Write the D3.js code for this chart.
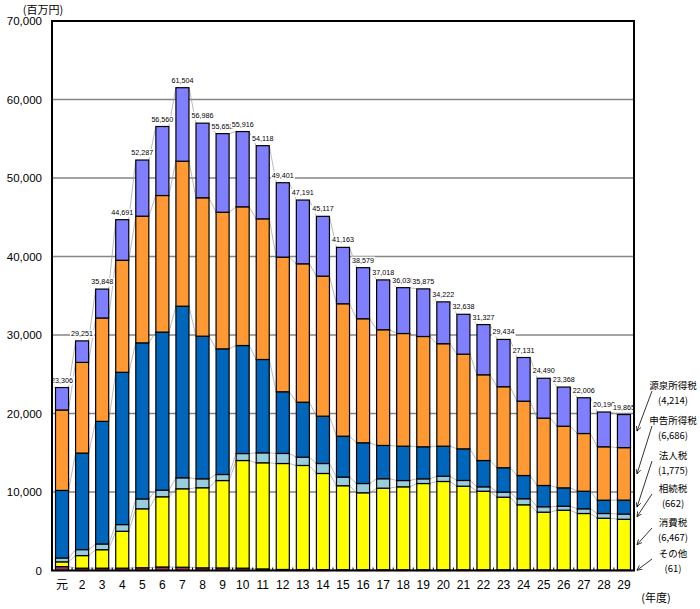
<!DOCTYPE html>
<html>
<head>
<meta charset="utf-8">
<script src="https://cdn.jsdelivr.net/npm/d3@7"></script>
<style>
body { margin: 0; background: #fff; }
text { font-family: "Liberation Sans", Arial, sans-serif; }
.jp { font-family: "Noto Sans CJK JP", sans-serif; }
</style>
</head>
<body>
<div id="chart"></div>
<script>
// years (Heisei), first one is 元年
var years = ["元","2","3","4","5","6","7","8","9","10","11","12","13","14","15",
    "16","17","18","19","20","21","22","23","24","25","26","27","28","29"];

// series, bottom to top (百万円)
var sonota   = [500,300,300,300,350,450,420,340,330,300,200,130,120,110,100,90,90,90,90,90,90,90,90,80,70,70,60,60,61];
var shohi    = [600,1600,2350,4700,7510,8940,9990,10200,11130,13710,13520,13500,13260,12250,10700,9810,10400,10570,10990,11250,10650,10010,9250,8290,7360,7610,7200,6600,6467];
var sozoku   = [500,760,730,850,1260,840,1400,1140,770,890,1270,1280,1050,1270,1100,1180,1200,800,600,670,730,560,640,770,690,510,600,600,662];
var hojin    = [8600,12300,15620,19400,19880,20140,21860,18170,16010,13760,11890,7860,7010,6030,5210,5190,4240,4380,4080,3830,4030,3350,3110,2960,2710,2340,2240,1700,1775];
var shinkoku = [10250,11550,13170,14270,16140,17400,18470,17630,17400,17670,17920,17150,17630,17840,16870,15800,14740,14350,14050,13050,12060,10920,10320,9470,8580,7850,7350,6800,6686];
var gensen   = [2856,2741,3678,5171,7147,8790,9364,9506,10012,9586,9318,9481,8121,7617,7183,6509,6348,5840,6065,5332,5078,6397,6024,5561,5080,4988,4556,4430,4214];

// printed totals
var totals = [23306,29251,35848,44691,52287,56560,61504,56986,55652,55916,54118,49401,47191,45117,41163,
    38579,37018,36030,35875,34222,32638,31327,29434,27131,24490,23368,22006,20190,19865];

var yTicks = [0,10000,20000,30000,40000,50000,60000,70000];

var keys = ["sonota","shohi","sozoku","hojin","shinkoku","gensen"];
var names = {sonota:"その他", shohi:"消費税", sozoku:"相続税", hojin:"法人税", shinkoku:"申告所得税", gensen:"源泉所得税"};
var colors = {sonota:"#993366", shohi:"#ffff00", sozoku:"#99ccdd", hojin:"#0066bb", shinkoku:"#ff9933", gensen:"#8080ff"};

var rows = years.map(function(y, i) {
    return {year: y, sonota: sonota[i], shohi: shohi[i], sozoku: sozoku[i],
        hojin: hojin[i], shinkoku: shinkoku[i], gensen: gensen[i]};
});

var svgWidth = 700, svgHeight = 609;
var plot = {left: 52, right: 634, top: 21, bottom: 570.5};

var svg = d3.select("#chart").append("svg")
    .attr("width", svgWidth)
    .attr("height", svgHeight);

var x = d3.scaleBand().domain(years).range([plot.left, plot.right])
    .paddingInner(0.35).paddingOuter(0.175);
var y = d3.scaleLinear().domain([0, 70000]).range([plot.bottom, plot.top]);
var bw = x.bandwidth();

// gridlines
svg.append("g").selectAll("line")
    .data(yTicks.filter(function(d) { return d > 0 && d < 70000; }))
    .enter().append("line")
    .attr("x1", plot.left).attr("x2", plot.right)
    .attr("y1", function(d) { return y(d); }).attr("y2", function(d) { return y(d); })
    .attr("stroke", "#858585").attr("stroke-width", 1.5);

var stacked = d3.stack().keys(keys)(rows);

// thin lines joining the segment tops of neighbouring bars
var joins = svg.append("g");
stacked.forEach(function(s) {
    for (var i = 0; i < s.length - 1; i++) {
        joins.append("line")
            .attr("x1", x(years[i]) + bw).attr("y1", y(s[i][1]))
            .attr("x2", x(years[i + 1])).attr("y2", y(s[i + 1][1]))
            .attr("stroke", "#a8a8a8").attr("stroke-width", 0.8);
    }
});

// bars
svg.append("g").selectAll("g")
    .data(stacked).enter().append("g")
    .attr("fill", function(d) { return colors[d.key]; })
    .selectAll("rect")
    .data(function(d) { return d; }).enter().append("rect")
    .attr("x", function(d) { return x(d.data.year); })
    .attr("y", function(d) { return y(d[1]); })
    .attr("width", bw)
    .attr("height", function(d) { return y(d[0]) - y(d[1]); })
    .attr("stroke", "#000").attr("stroke-width", 1.2);

// total labels with white box
var fmt = d3.format(",");
var lab = svg.append("g").selectAll("g").data(totals).enter().append("g");
lab.append("text")
    .attr("x", function(d, i) { return x(years[i]) + bw / 2; })
    .attr("y", function(d, i) { return y(d) - 5; })
    .attr("text-anchor", "middle")
    .attr("font-size", "7.2px")
    .text(function(d) { return fmt(d); });
lab.each(function() {
    var g = d3.select(this);
    var b = g.select("text").node().getBBox();
    g.insert("rect", "text")
        .attr("x", b.x - 1).attr("y", b.y + 1)
        .attr("width", b.width + 2).attr("height", b.height - 1)
        .attr("fill", "#fff");
});

// small ticks between bars
var step = x.step();
svg.append("g").selectAll("line").data(years.slice(1)).enter().append("line")
    .attr("x1", function(d) { return x(d) - (step - bw) / 2; })
    .attr("x2", function(d) { return x(d) - (step - bw) / 2; })
    .attr("y1", plot.bottom).attr("y2", plot.bottom - 3)
    .attr("stroke", "#000").attr("stroke-width", 1);

// frame
svg.append("rect")
    .attr("x", plot.left).attr("y", plot.top)
    .attr("width", plot.right - plot.left).attr("height", plot.bottom - plot.top)
    .attr("fill", "none").attr("stroke", "#000").attr("stroke-width", 2);

// axes
var yAxis = svg.append("g")
    .attr("transform", "translate(" + plot.left + ",0)")
    .call(d3.axisLeft(y).tickValues(yTicks).tickSize(0).tickPadding(10).tickFormat(fmt));
yAxis.select(".domain").remove();
yAxis.selectAll("text").attr("font-size", "11.5px").attr("fill", "#000")
    .style("font-family", "'Liberation Sans', Arial, sans-serif");

var xAxis = svg.append("g")
    .attr("transform", "translate(0," + plot.bottom + ")")
    .call(d3.axisBottom(x).tickSize(0).tickPadding(10));
xAxis.select(".domain").remove();
xAxis.selectAll("text").attr("font-size", "12px").attr("fill", "#000")
    .style("font-family", "'Liberation Sans', 'Noto Sans CJK JP', sans-serif");

svg.append("text").attr("class", "jp")
    .attr("x", 43).attr("y", 14).attr("text-anchor", "middle")
    .attr("font-size", "11px").text("(百万円)");
svg.append("text").attr("class", "jp")
    .attr("x", 656).attr("y", 602).attr("text-anchor", "middle")
    .attr("font-size", "11px").text("(年度)");

// legend at right with arrows to the last bar
svg.append("defs").append("marker")
    .attr("id", "arr").attr("viewBox", "0 0 8 8")
    .attr("refX", 7).attr("refY", 4)
    .attr("markerWidth", 7).attr("markerHeight", 7)
    .attr("orient", "auto")
    .append("path").attr("d", "M0,0.5 L7,4 L0,7.5")
    .attr("fill", "none").attr("stroke", "#000").attr("stroke-width", 1);

var legendY = {gensen: 386, shinkoku: 421, hojin: 456, sozoku: 489, shohi: 523, sonota: 554};
var last = years.length - 1;
var leg = svg.append("g");
stacked.forEach(function(s) {
    var k = s.key;
    var ty = legendY[k];
    leg.append("text").attr("class", "jp")
        .attr("x", 673).attr("y", ty + 3).attr("text-anchor", "middle")
        .attr("font-size", "9.5px").text(names[k]);
    leg.append("text").attr("class", "jp")
        .attr("x", 673).attr("y", ty + 17.5).attr("text-anchor", "middle")
        .attr("font-size", "9.5px").text("(" + fmt(s[last].data[k]) + ")");
    var mid = (s[last][0] + s[last][1]) / 2;
    leg.append("line")
        .attr("x1", 652).attr("y1", ty + 5)
        .attr("x2", 637).attr("y2", y(mid))
        .attr("stroke", "#000").attr("stroke-width", 0.8)
        .attr("marker-end", "url(#arr)");
});
</script>
</body>
</html>
